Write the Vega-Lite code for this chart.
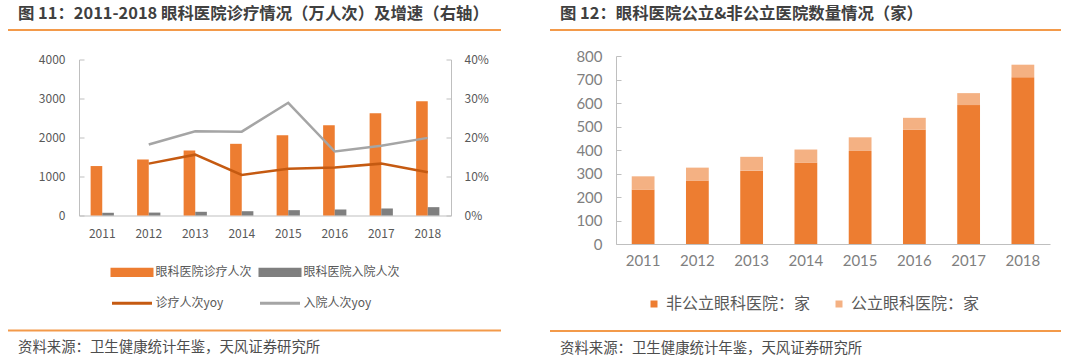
{
  "$schema": "https://vega.github.io/schema/vega-lite/v6.json",
  "background": "white",
  "padding": {"left": 7, "top": 5, "right": 0, "bottom": 0},
  "config": {
    "view": {"stroke": null},
    "font": "Noto Sans CJK SC"
  },
  "resolve": {"scale": {"color": "independent"}, "legend": {"color": "independent"}},
  "datasets": {
    "visits": [
      {"year": "2011", "series": "眼科医院诊疗人次", "value": 1268},
      {"year": "2011", "series": "眼科医院入院人次", "value": 70},
      {"year": "2012", "series": "眼科医院诊疗人次", "value": 1436},
      {"year": "2012", "series": "眼科医院入院人次", "value": 75},
      {"year": "2013", "series": "眼科医院诊疗人次", "value": 1667},
      {"year": "2013", "series": "眼科医院入院人次", "value": 95},
      {"year": "2014", "series": "眼科医院诊疗人次", "value": 1838},
      {"year": "2014", "series": "眼科医院入院人次", "value": 110},
      {"year": "2015", "series": "眼科医院诊疗人次", "value": 2060},
      {"year": "2015", "series": "眼科医院入院人次", "value": 137},
      {"year": "2016", "series": "眼科医院诊疗人次", "value": 2316},
      {"year": "2016", "series": "眼科医院入院人次", "value": 154},
      {"year": "2017", "series": "眼科医院诊疗人次", "value": 2624},
      {"year": "2017", "series": "眼科医院入院人次", "value": 180},
      {"year": "2018", "series": "眼科医院诊疗人次", "value": 2932},
      {"year": "2018", "series": "眼科医院入院人次", "value": 214}
    ],
    "growth": [
      {"year": "2012", "series": "诊疗人次yoy", "rate": 0.133},
      {"year": "2013", "series": "诊疗人次yoy", "rate": 0.156},
      {"year": "2014", "series": "诊疗人次yoy", "rate": 0.104},
      {"year": "2015", "series": "诊疗人次yoy", "rate": 0.120},
      {"year": "2016", "series": "诊疗人次yoy", "rate": 0.123},
      {"year": "2017", "series": "诊疗人次yoy", "rate": 0.133},
      {"year": "2018", "series": "诊疗人次yoy", "rate": 0.111},
      {"year": "2012", "series": "入院人次yoy", "rate": 0.182},
      {"year": "2013", "series": "入院人次yoy", "rate": 0.216},
      {"year": "2014", "series": "入院人次yoy", "rate": 0.215},
      {"year": "2015", "series": "入院人次yoy", "rate": 0.289},
      {"year": "2016", "series": "入院人次yoy", "rate": 0.164},
      {"year": "2017", "series": "入院人次yoy", "rate": 0.179},
      {"year": "2018", "series": "入院人次yoy", "rate": 0.199}
    ],
    "hospitals": [
      {"year": "2011", "type": "非公立眼科医院：家", "count": 232},
      {"year": "2011", "type": "公立眼科医院：家", "count": 56},
      {"year": "2012", "type": "非公立眼科医院：家", "count": 270},
      {"year": "2012", "type": "公立眼科医院：家", "count": 55},
      {"year": "2013", "type": "非公立眼科医院：家", "count": 312},
      {"year": "2013", "type": "公立眼科医院：家", "count": 59},
      {"year": "2014", "type": "非公立眼科医院：家", "count": 347},
      {"year": "2014", "type": "公立眼科医院：家", "count": 55},
      {"year": "2015", "type": "非公立眼科医院：家", "count": 396},
      {"year": "2015", "type": "公立眼科医院：家", "count": 58},
      {"year": "2016", "type": "非公立眼科医院：家", "count": 486},
      {"year": "2016", "type": "公立眼科医院：家", "count": 51},
      {"year": "2017", "type": "非公立眼科医院：家", "count": 591},
      {"year": "2017", "type": "公立眼科医院：家", "count": 51},
      {"year": "2018", "type": "非公立眼科医院：家", "count": 710},
      {"year": "2018", "type": "公立眼科医院：家", "count": 53}
    ],
    "rulerow": [{"pos": 0}]
  },
  "hconcat": [
    {
      "spacing": 22.5,
      "vconcat": [
        {
          "width": 493, "height": 1,
          "title": {"text": "图 11：2011-2018 眼科医院诊疗情况（万人次）及增速（右轴）", "anchor": "start", "dx": 11, "fontSize": 16.4, "fontWeight": "bold", "color": "#404040", "offset": 7},
          "data": {"name": "rulerow"},
          "mark": {"type": "rule", "color": "#F39A4A", "strokeWidth": 2},
          "encoding": {"y": {"field": "pos", "type": "quantitative", "scale": {"domain": [0, 1]}, "axis": null}}
        },
        {
          "spacing": 0,
          "hconcat": [
            {
              "width": 29.5, "height": 1,
              "data": {"name": "rulerow"},
              "mark": {"type": "rule", "opacity": 0},
              "encoding": {"y": {"field": "pos", "type": "quantitative", "scale": {"domain": [0, 1]}, "axis": null}}
            },
            {
              "width": 372, "height": 156,
              "layer": [
                {
                  "data": {"name": "visits"},
                  "mark": {"type": "bar"},
                  "encoding": {
                    "x": {"field": "year", "type": "ordinal", "title": null, "scale": {"paddingInner": 0.5, "paddingOuter": 0.25},
                      "axis": {"labelAngle": 0, "ticks": false, "domainColor": "#BFBFBF", "labelColor": "#595959", "labelFontSize": 12, "labelPadding": 13}},
                    "xOffset": {"field": "series", "type": "nominal", "sort": ["眼科医院诊疗人次", "眼科医院入院人次"], "scale": {"paddingInner": 0, "paddingOuter": 0}},
                    "y": {"field": "value", "type": "quantitative", "title": null, "scale": {"domain": [0, 4000]},
                      "axis": {"values": [0, 1000, 2000, 3000, 4000], "format": "d", "grid": false, "domainColor": "#BFBFBF", "tickColor": "#BFBFBF", "tickSize": -5, "labelPadding": 19, "labelColor": "#595959", "labelFontSize": 12}},
                    "color": {"field": "series", "type": "nominal",
                      "scale": {"domain": ["眼科医院诊疗人次", "眼科医院入院人次", "诊疗人次yoy", "入院人次yoy"], "range": ["#ED7D31", "#7F7F7F", "#C55A11", "#A5A5A5"]},
                      "legend": {
                        "orient": "none", "legendX": 102.5, "legendY": 221.7, "columns": 2, "direction": "horizontal", "title": null,
                        "symbolSize": 1600, "symbolStrokeWidth": 3, "labelFontSize": 12, "labelColor": "#595959", "labelOffset": 2, "columnPadding": 1, "rowPadding": -1.7,
                        "encode": {"symbols": {"update": {
                          "shape": {"signal": "indexof(datum.value, 'yoy') >= 0 ? 'stroke' : 'M-1,-0.16H1V0.16H-1Z'"},
                          "fill": {"signal": "datum.value === '眼科医院诊疗人次' ? '#ED7D31' : datum.value === '眼科医院入院人次' ? '#7F7F7F' : 'transparent'"},
                          "stroke": {"signal": "datum.value === '诊疗人次yoy' ? '#C55A11' : datum.value === '入院人次yoy' ? '#A5A5A5' : 'transparent'"}
                        }}}
                      }}
                  }
                },
                {
                  "data": {"name": "growth"},
                  "mark": {"type": "line", "strokeWidth": 2.5},
                  "encoding": {
                    "x": {"field": "year", "type": "ordinal", "title": null},
                    "y": {"field": "rate", "type": "quantitative", "title": null, "scale": {"domain": [0, 0.4]},
                      "axis": {"orient": "right", "format": ".0%", "grid": false, "values": [0, 0.1, 0.2, 0.3, 0.4], "domainColor": "#BFBFBF", "tickColor": "#BFBFBF", "tickSize": -5, "labelPadding": 18, "labelColor": "#595959", "labelFontSize": 12}},
                    "color": {"field": "series", "type": "nominal"}
                  }
                }
              ],
              "resolve": {"scale": {"y": "independent"}}
            }
          ]
        },
        {
          "width": 493, "height": 68.5,
          "title": {"text": "资料来源：卫生健康统计年鉴，天风证券研究所", "orient": "bottom", "anchor": "start", "dx": 11, "fontSize": 14.4, "fontWeight": "normal", "color": "#4D4D4D", "offset": 9.5},
          "data": {"name": "rulerow"},
          "mark": {"type": "rule", "color": "#F39A4A", "strokeWidth": 2},
          "encoding": {"y": {"field": "pos", "type": "quantitative", "scale": {"domain": [0, 1]}, "axis": null}}
        }
      ]
    },
    {
      "spacing": 18,
      "vconcat": [
        {
          "width": 511, "height": 1,
          "title": {"text": "图 12：眼科医院公立&非公立医院数量情况（家）", "anchor": "start", "dx": 11, "fontSize": 16.4, "fontWeight": "bold", "color": "#404040", "offset": 7},
          "data": {"name": "rulerow"},
          "mark": {"type": "rule", "color": "#F39A4A", "strokeWidth": 2},
          "encoding": {"y": {"field": "pos", "type": "quantitative", "scale": {"domain": [0, 1]}, "axis": null}}
        },
        {
          "spacing": 0,
          "hconcat": [
            {
              "width": 25, "height": 1,
              "data": {"name": "rulerow"},
              "mark": {"type": "rule", "opacity": 0},
              "encoding": {"y": {"field": "pos", "type": "quantitative", "scale": {"domain": [0, 1]}, "axis": null}}
            },
            {
              "width": 434, "height": 188,
              "data": {"name": "hospitals"},
              "mark": {"type": "bar"},
              "encoding": {
                "x": {"field": "year", "type": "ordinal", "title": null, "scale": {"paddingInner": 0.58, "paddingOuter": 0.29},
                  "axis": {"labelAngle": 0, "ticks": false, "domainColor": "#BFBFBF", "labelColor": "#7F7F7F", "labelFont": "Lato", "labelFontSize": 15, "labelPadding": 9}},
                "y": {"field": "count", "type": "quantitative", "title": null, "stack": "zero", "scale": {"domain": [0, 800]},
                  "axis": {"values": [0, 100, 200, 300, 400, 500, 600, 700, 800], "grid": false, "domainColor": "#BFBFBF", "tickColor": "#BFBFBF", "tickSize": -5, "labelPadding": 19, "labelColor": "#7F7F7F", "labelFont": "Lato", "labelFontSize": 15}},
                "color": {"field": "type", "type": "nominal",
                  "scale": {"domain": ["非公立眼科医院：家", "公立眼科医院：家"], "range": ["#ED7D31", "#F4B183"]},
                  "legend": {"orient": "none", "legendX": 88, "legendY": 263, "padding": 4, "direction": "horizontal", "title": null,
                    "symbolType": "square", "symbolSize": 49, "symbolOffset": 4, "symbolStrokeWidth": 0, "labelFontSize": 16, "labelColor": "#595959", "columnPadding": 16}},
                "order": {"field": "type", "sort": "descending"}
              }
            }
          ]
        },
        {
          "width": 511, "height": 45,
          "title": {"text": "资料来源：卫生健康统计年鉴，天风证券研究所", "orient": "bottom", "anchor": "start", "dx": 11, "fontSize": 14.4, "fontWeight": "normal", "color": "#4D4D4D", "offset": 9.5},
          "data": {"name": "rulerow"},
          "mark": {"type": "rule", "color": "#F39A4A", "strokeWidth": 2},
          "encoding": {"y": {"field": "pos", "type": "quantitative", "scale": {"domain": [0, 1]}, "axis": null}}
        }
      ]
    }
  ],
  "spacing": 47
}
